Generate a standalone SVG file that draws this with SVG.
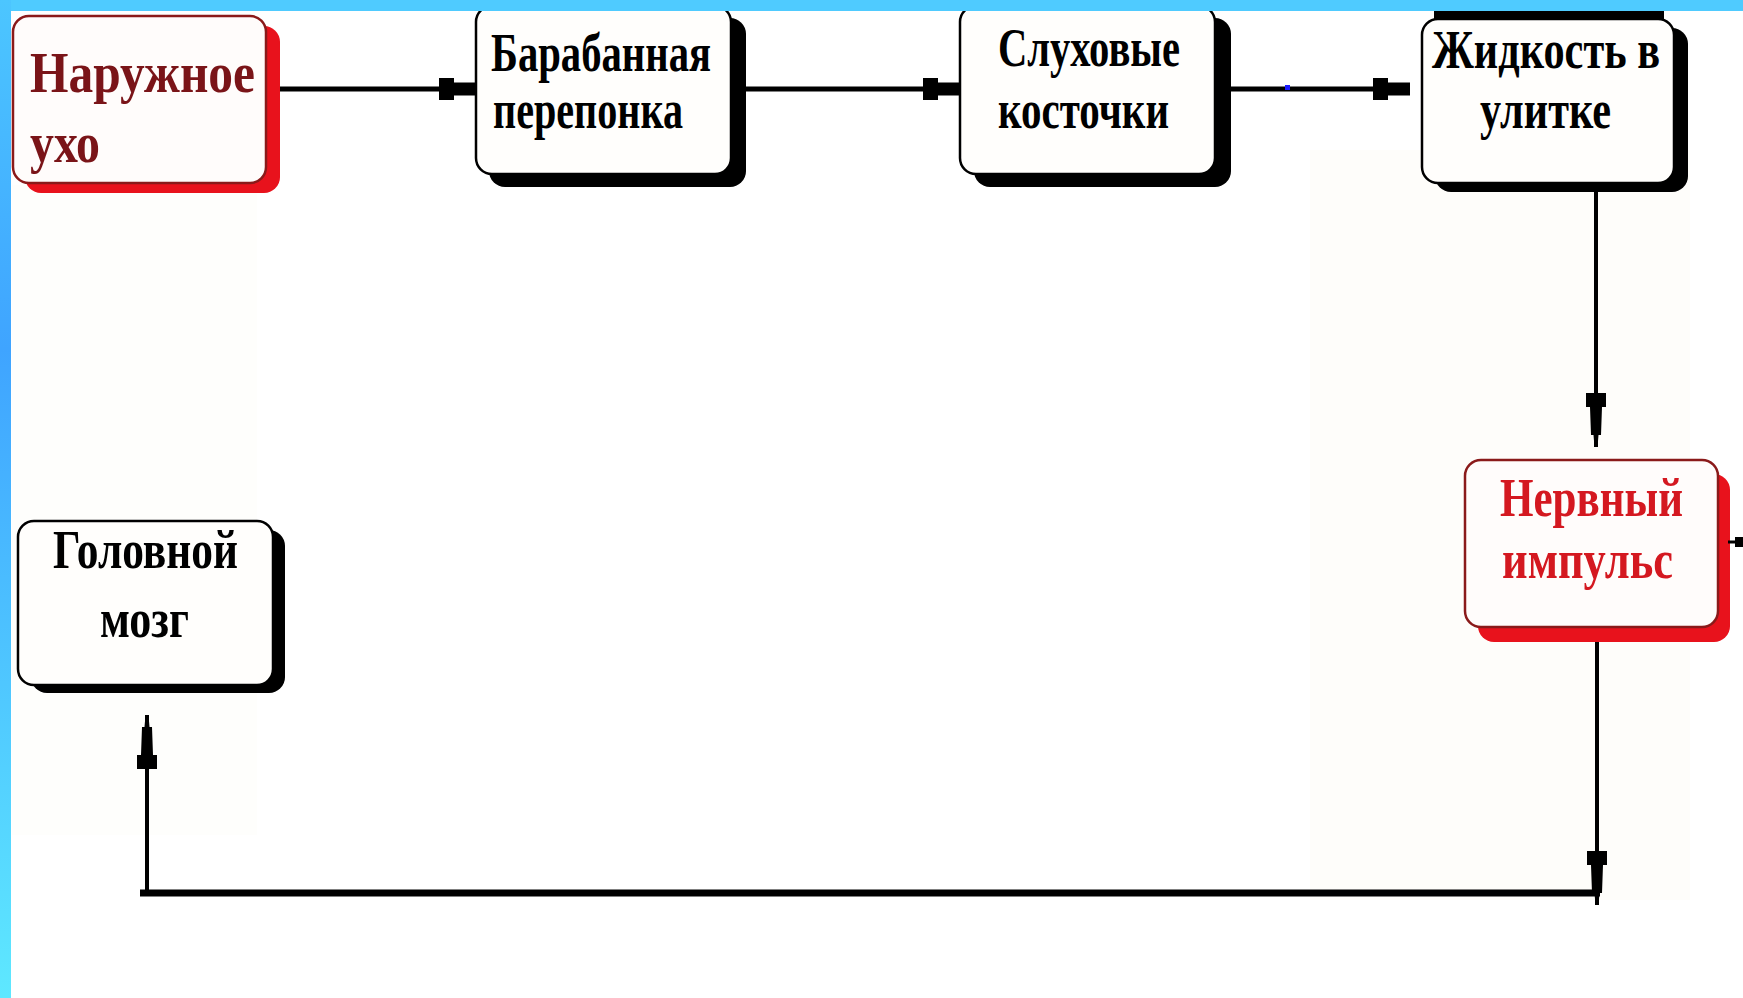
<svg xmlns="http://www.w3.org/2000/svg" width="1743" height="998" viewBox="0 0 1743 998">
  <defs>
    <linearGradient id="sideGrad" x1="0" y1="0" x2="0" y2="1">
      <stop offset="0" stop-color="#4cc6ff"/>
      <stop offset="0.35" stop-color="#3fa4ff"/>
      <stop offset="1" stop-color="#5ee8ff"/>
    </linearGradient>
    <marker id="ah" markerUnits="userSpaceOnUse" viewBox="-40 -13 42 26" markerWidth="42" markerHeight="26" refX="0" refY="0" orient="auto">
      <polygon points="0,-6.5 -22,-6.5 -22,-11 -37,-11 -37,11 -22,11 -22,6.5 0,6.5" fill="#000"/>
    </marker>
    <marker id="av" markerUnits="userSpaceOnUse" viewBox="-56 -12 58 24" markerWidth="58" markerHeight="24" refX="0" refY="0" orient="auto">
      <polygon points="0,-1.5 -12,-2.5 -12,-5 -40,-6 -40,-10 -54,-10 -54,10 -40,10 -40,6 -12,5 -12,2.5 0,1.5" fill="#000"/>
    </marker>
    <style>
      .shadowK { fill: #000; }
      .shadowR { fill: #e8121c; }
      .boxK { fill: #fffefc; stroke: #000; stroke-width: 2.5; }
      .boxR { fill: #fffcfb; stroke: #8a1a1a; stroke-width: 2.5; }
      .lbl { font-family: "Liberation Serif", "DejaVu Serif", serif; font-weight: bold; font-size: 54px; fill: #000; }
      .lblDR { fill: #7a1418; font-size: 56px; }
      .lblR { fill: #d41820; }
      .conn { fill: none; stroke: #000; stroke-linecap: butt; }
    </style>
  </defs>

  <rect x="0" y="0" width="1743" height="998" fill="#ffffff"/>
  <rect x="1310" y="150" width="380" height="750" fill="#fdf9ef" opacity="0.3"/>
  <rect x="12" y="185" width="245" height="650" fill="#fdfaf3" opacity="0.25"/>

  <g id="node-outer-ear">
    <rect class="shadowR" x="25" y="26" width="255" height="167" rx="16"/>
    <rect class="boxR" x="13" y="16" width="253" height="167" rx="16"/>
    <text class="lbl lblDR" x="30" y="92" textLength="225" lengthAdjust="spacingAndGlyphs">Наружное</text>
    <text class="lbl lblDR" x="30" y="162" textLength="70" lengthAdjust="spacingAndGlyphs">ухо</text>
  </g>

  <g id="node-eardrum">
    <rect class="shadowK" x="489" y="18" width="257" height="169" rx="16"/>
    <rect class="boxK" x="476" y="6" width="255" height="168" rx="16"/>
    <text class="lbl" x="491" y="71" textLength="220" lengthAdjust="spacingAndGlyphs">Барабанная</text>
    <text class="lbl" x="493" y="128" textLength="190" lengthAdjust="spacingAndGlyphs">перепонка</text>
  </g>

  <g id="node-ossicles">
    <rect class="shadowK" x="974" y="18" width="257" height="169" rx="16"/>
    <rect class="boxK" x="960" y="6" width="255" height="168" rx="16"/>
    <text class="lbl" x="998" y="66" textLength="182" lengthAdjust="spacingAndGlyphs">Слуховые</text>
    <text class="lbl" x="998" y="128" textLength="171" lengthAdjust="spacingAndGlyphs">косточки</text>
  </g>

  <g id="node-cochlea-fluid">
    <rect x="1434" y="10" width="230" height="9" fill="#000"/>
    <rect class="shadowK" x="1435" y="28" width="253" height="164" rx="16"/>
    <rect class="boxK" x="1422" y="19" width="252" height="164" rx="16"/>
    <text class="lbl" x="1432" y="68" textLength="228" lengthAdjust="spacingAndGlyphs">Жидкость в</text>
    <text class="lbl" x="1480" y="128" textLength="131" lengthAdjust="spacingAndGlyphs">улитке</text>
  </g>

  <g id="node-nerve-impulse">
    <rect class="shadowR" x="1478" y="474" width="252" height="168" rx="16"/>
    <rect class="boxR" x="1465" y="460" width="253" height="167" rx="16"/>
    <text class="lbl lblR" x="1500" y="516" textLength="183" lengthAdjust="spacingAndGlyphs">Нервный</text>
    <text class="lbl lblR" x="1502" y="578" textLength="171" lengthAdjust="spacingAndGlyphs">импульс</text>
  </g>

  <g id="node-brain">
    <rect class="shadowK" x="31" y="530" width="254" height="163" rx="16"/>
    <rect class="boxK" x="18" y="521" width="255" height="164" rx="16"/>
    <text class="lbl" x="53" y="568" textLength="185" lengthAdjust="spacingAndGlyphs">Головной</text>
    <text class="lbl" x="100" y="637" textLength="89" lengthAdjust="spacingAndGlyphs">мозг</text>
  </g>

  <g id="connectors">
    <path class="conn" d="M 280 89 H 476" stroke-width="5" marker-end="url(#ah)"/>
    <path class="conn" d="M 746 89 H 960" stroke-width="5" marker-end="url(#ah)"/>
    <path class="conn" d="M 1231 89 H 1410" stroke-width="5" marker-end="url(#ah)"/>
    <rect x="1285" y="85" width="5" height="5" fill="#1a1aff"/>
    <path class="conn" d="M 1596 183 V 447" stroke-width="4" marker-end="url(#av)"/>
    <path class="conn" d="M 1597 642 V 905" stroke-width="4" marker-end="url(#av)"/>
    <path class="conn" d="M 140 893 H 1600" stroke-width="7"/>
    <path class="conn" d="M 147 896 V 715" stroke-width="4" marker-end="url(#av)"/>
    <path class="conn" d="M 1728 542 H 1743" stroke-width="3"/>
    <rect x="1735" y="537" width="8" height="10" fill="#000"/>
  </g>

  <rect x="0" y="0" width="1743" height="11" fill="#4fcbff"/>
  <rect x="0" y="0" width="11" height="998" fill="url(#sideGrad)"/>
</svg>
